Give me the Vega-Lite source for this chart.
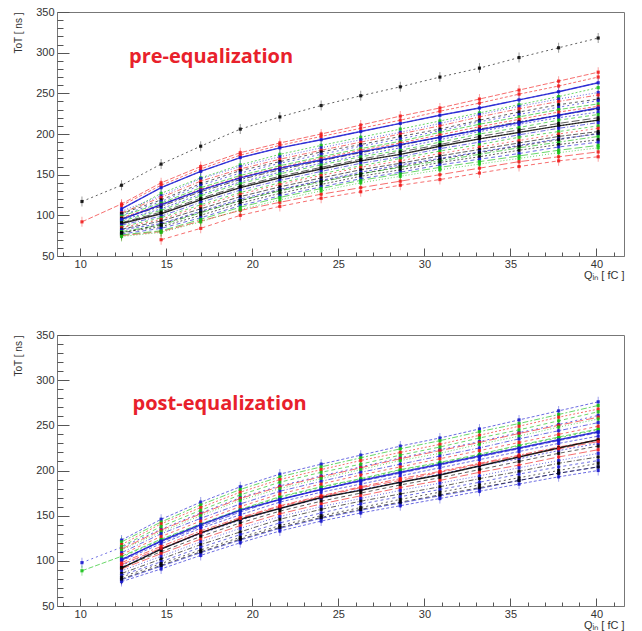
{
"$schema":"https://vega.github.io/schema/vega-lite/v6.json",
"padding":{"left":13,"right":10,"top":5,"bottom":0},
"spacing":47,
"config":{
 "view":{"stroke":"#777","strokeWidth":1},
 "axis":{"labelFont":"Liberation Sans","labelFontSize":11,"labelColor":"#333","titleFont":"Liberation Sans","titleFontSize":10,"titleFontWeight":"normal","titleColor":"#333","domainColor":"#777","tickColor":"#555","grid":false,"labelOverlap":false,"labelFlush":false,"labelBound":false}
},
"datasets":{"d":[
{"k":"a00","g":"k","x":10.1,"y":117},{"k":"a00","g":"k","x":12.4,"y":137},{"k":"a00","g":"k","x":14.7,"y":163},{"k":"a00","g":"k","x":17,"y":185},{"k":"a00","g":"k","x":19.3,"y":206},{"k":"a00","g":"k","x":21.6,"y":221},{"k":"a00","g":"k","x":24,"y":235},{"k":"a00","g":"k","x":26.3,"y":247},{"k":"a00","g":"k","x":28.6,"y":258},{"k":"a00","g":"k","x":30.9,"y":270},{"k":"a00","g":"k","x":33.2,"y":281},{"k":"a00","g":"k","x":35.5,"y":294},{"k":"a00","g":"k","x":37.8,"y":306},{"k":"a00","g":"k","x":40.1,"y":318},
{"k":"a01","g":"r","x":10.1,"y":92},{"k":"a01","g":"r","x":12.4,"y":114},{"k":"a01","g":"r","x":14.7,"y":140},{"k":"a01","g":"r","x":17,"y":160},{"k":"a01","g":"r","x":19.3,"y":177},{"k":"a01","g":"r","x":21.6,"y":189},{"k":"a01","g":"r","x":24,"y":200},{"k":"a01","g":"r","x":26.3,"y":211},{"k":"a01","g":"r","x":28.6,"y":222},{"k":"a01","g":"r","x":30.9,"y":232},{"k":"a01","g":"r","x":33.2,"y":243},{"k":"a01","g":"r","x":35.5,"y":254},{"k":"a01","g":"r","x":37.8,"y":265},{"k":"a01","g":"r","x":40.1,"y":276},
{"k":"a02","g":"r","x":12.4,"y":112},{"k":"a02","g":"r","x":14.7,"y":137},{"k":"a02","g":"r","x":17,"y":157},{"k":"a02","g":"r","x":19.3,"y":174},{"k":"a02","g":"r","x":21.6,"y":186},{"k":"a02","g":"r","x":24,"y":197},{"k":"a02","g":"r","x":26.3,"y":207},{"k":"a02","g":"r","x":28.6,"y":217},{"k":"a02","g":"r","x":30.9,"y":228},{"k":"a02","g":"r","x":33.2,"y":238},{"k":"a02","g":"r","x":35.5,"y":249},{"k":"a02","g":"r","x":37.8,"y":259},{"k":"a02","g":"r","x":40.1,"y":270},
{"k":"a03","g":"b","x":12.4,"y":108},{"k":"a03","g":"b","x":14.7,"y":134},{"k":"a03","g":"b","x":17,"y":154},{"k":"a03","g":"b","x":19.3,"y":171},{"k":"a03","g":"b","x":21.6,"y":183},{"k":"a03","g":"b","x":24,"y":193},{"k":"a03","g":"b","x":26.3,"y":203},{"k":"a03","g":"b","x":28.6,"y":213},{"k":"a03","g":"b","x":30.9,"y":223},{"k":"a03","g":"b","x":33.2,"y":232},{"k":"a03","g":"b","x":35.5,"y":242},{"k":"a03","g":"b","x":37.8,"y":252},{"k":"a03","g":"b","x":40.1,"y":263},
{"k":"a04","g":"g","x":12.4,"y":101},{"k":"a04","g":"g","x":14.7,"y":127},{"k":"a04","g":"g","x":17,"y":146},{"k":"a04","g":"g","x":19.3,"y":162},{"k":"a04","g":"g","x":21.6,"y":175},{"k":"a04","g":"g","x":24,"y":186},{"k":"a04","g":"g","x":26.3,"y":196},{"k":"a04","g":"g","x":28.6,"y":206},{"k":"a04","g":"g","x":30.9,"y":216},{"k":"a04","g":"g","x":33.2,"y":226},{"k":"a04","g":"g","x":35.5,"y":236},{"k":"a04","g":"g","x":37.8,"y":246},{"k":"a04","g":"g","x":40.1,"y":257},
{"k":"a05","g":"r","x":14.7,"y":70},{"k":"a05","g":"r","x":17,"y":84},{"k":"a05","g":"r","x":19.3,"y":100},{"k":"a05","g":"r","x":21.6,"y":111},{"k":"a05","g":"r","x":24,"y":121},{"k":"a05","g":"r","x":26.3,"y":129},{"k":"a05","g":"r","x":28.6,"y":137},{"k":"a05","g":"r","x":30.9,"y":144},{"k":"a05","g":"r","x":33.2,"y":152},{"k":"a05","g":"r","x":35.5,"y":160},{"k":"a05","g":"r","x":37.8,"y":167},{"k":"a05","g":"r","x":40.1,"y":172},
{"k":"a06","g":"r","x":12.4,"y":75},{"k":"a06","g":"r","x":14.7,"y":80},{"k":"a06","g":"r","x":17,"y":93},{"k":"a06","g":"r","x":19.3,"y":106},{"k":"a06","g":"r","x":21.6,"y":116},{"k":"a06","g":"r","x":24,"y":126},{"k":"a06","g":"r","x":26.3,"y":134},{"k":"a06","g":"r","x":28.6,"y":142},{"k":"a06","g":"r","x":30.9,"y":150},{"k":"a06","g":"r","x":33.2,"y":158},{"k":"a06","g":"r","x":35.5,"y":166},{"k":"a06","g":"r","x":37.8,"y":172},{"k":"a06","g":"r","x":40.1,"y":178},
{"k":"a07","g":"b","x":12.4,"y":105},{"k":"a07","g":"b","x":14.7,"y":124},{"k":"a07","g":"b","x":17,"y":145},{"k":"a07","g":"b","x":19.3,"y":160},{"k":"a07","g":"b","x":21.6,"y":172},{"k":"a07","g":"b","x":24,"y":183},{"k":"a07","g":"b","x":26.3,"y":193},{"k":"a07","g":"b","x":28.6,"y":202},{"k":"a07","g":"b","x":30.9,"y":213},{"k":"a07","g":"b","x":33.2,"y":224},{"k":"a07","g":"b","x":35.5,"y":234},{"k":"a07","g":"b","x":37.8,"y":243},{"k":"a07","g":"b","x":40.1,"y":251},
{"k":"a08","g":"r","x":12.4,"y":103},{"k":"a08","g":"r","x":14.7,"y":122},{"k":"a08","g":"r","x":17,"y":142},{"k":"a08","g":"r","x":19.3,"y":157},{"k":"a08","g":"r","x":21.6,"y":169},{"k":"a08","g":"r","x":24,"y":180},{"k":"a08","g":"r","x":26.3,"y":190},{"k":"a08","g":"r","x":28.6,"y":200},{"k":"a08","g":"r","x":30.9,"y":210},{"k":"a08","g":"r","x":33.2,"y":221},{"k":"a08","g":"r","x":35.5,"y":231},{"k":"a08","g":"r","x":37.8,"y":240},{"k":"a08","g":"r","x":40.1,"y":248},
{"k":"a09","g":"k","x":12.4,"y":102},{"k":"a09","g":"k","x":14.7,"y":119},{"k":"a09","g":"k","x":17,"y":139},{"k":"a09","g":"k","x":19.3,"y":155},{"k":"a09","g":"k","x":21.6,"y":166},{"k":"a09","g":"k","x":24,"y":178},{"k":"a09","g":"k","x":26.3,"y":187},{"k":"a09","g":"k","x":28.6,"y":197},{"k":"a09","g":"k","x":30.9,"y":206},{"k":"a09","g":"k","x":33.2,"y":217},{"k":"a09","g":"k","x":35.5,"y":227},{"k":"a09","g":"k","x":37.8,"y":236},{"k":"a09","g":"k","x":40.1,"y":243},
{"k":"a10","g":"b","x":12.4,"y":100},{"k":"a10","g":"b","x":14.7,"y":117},{"k":"a10","g":"b","x":17,"y":137},{"k":"a10","g":"b","x":19.3,"y":152},{"k":"a10","g":"b","x":21.6,"y":164},{"k":"a10","g":"b","x":24,"y":175},{"k":"a10","g":"b","x":26.3,"y":185},{"k":"a10","g":"b","x":28.6,"y":194},{"k":"a10","g":"b","x":30.9,"y":204},{"k":"a10","g":"b","x":33.2,"y":215},{"k":"a10","g":"b","x":35.5,"y":224},{"k":"a10","g":"b","x":37.8,"y":233},{"k":"a10","g":"b","x":40.1,"y":241},
{"k":"a11","g":"g","x":12.4,"y":99},{"k":"a11","g":"g","x":14.7,"y":115},{"k":"a11","g":"g","x":17,"y":134},{"k":"a11","g":"g","x":19.3,"y":149},{"k":"a11","g":"g","x":21.6,"y":161},{"k":"a11","g":"g","x":24,"y":172},{"k":"a11","g":"g","x":26.3,"y":182},{"k":"a11","g":"g","x":28.6,"y":191},{"k":"a11","g":"g","x":30.9,"y":202},{"k":"a11","g":"g","x":33.2,"y":212},{"k":"a11","g":"g","x":35.5,"y":221},{"k":"a11","g":"g","x":37.8,"y":230},{"k":"a11","g":"g","x":40.1,"y":237},
{"k":"a12","g":"r","x":12.4,"y":97},{"k":"a12","g":"r","x":14.7,"y":113},{"k":"a12","g":"r","x":17,"y":132},{"k":"a12","g":"r","x":19.3,"y":147},{"k":"a12","g":"r","x":21.6,"y":159},{"k":"a12","g":"r","x":24,"y":170},{"k":"a12","g":"r","x":26.3,"y":180},{"k":"a12","g":"r","x":28.6,"y":189},{"k":"a12","g":"r","x":30.9,"y":199},{"k":"a12","g":"r","x":33.2,"y":209},{"k":"a12","g":"r","x":35.5,"y":218},{"k":"a12","g":"r","x":37.8,"y":227},{"k":"a12","g":"r","x":40.1,"y":234},
{"k":"a13","g":"k","x":12.4,"y":96},{"k":"a13","g":"k","x":14.7,"y":111},{"k":"a13","g":"k","x":17,"y":129},{"k":"a13","g":"k","x":19.3,"y":144},{"k":"a13","g":"k","x":21.6,"y":156},{"k":"a13","g":"k","x":24,"y":167},{"k":"a13","g":"k","x":26.3,"y":177},{"k":"a13","g":"k","x":28.6,"y":186},{"k":"a13","g":"k","x":30.9,"y":196},{"k":"a13","g":"k","x":33.2,"y":206},{"k":"a13","g":"k","x":35.5,"y":215},{"k":"a13","g":"k","x":37.8,"y":223},{"k":"a13","g":"k","x":40.1,"y":231},
{"k":"a14","g":"b","x":12.4,"y":94},{"k":"a14","g":"b","x":14.7,"y":108},{"k":"a14","g":"b","x":17,"y":126},{"k":"a14","g":"b","x":19.3,"y":141},{"k":"a14","g":"b","x":21.6,"y":153},{"k":"a14","g":"b","x":24,"y":164},{"k":"a14","g":"b","x":26.3,"y":174},{"k":"a14","g":"b","x":28.6,"y":183},{"k":"a14","g":"b","x":30.9,"y":193},{"k":"a14","g":"b","x":33.2,"y":203},{"k":"a14","g":"b","x":35.5,"y":212},{"k":"a14","g":"b","x":37.8,"y":220},{"k":"a14","g":"b","x":40.1,"y":227},
{"k":"a15","g":"g","x":12.4,"y":93},{"k":"a15","g":"g","x":14.7,"y":106},{"k":"a15","g":"g","x":17,"y":124},{"k":"a15","g":"g","x":19.3,"y":139},{"k":"a15","g":"g","x":21.6,"y":151},{"k":"a15","g":"g","x":24,"y":162},{"k":"a15","g":"g","x":26.3,"y":172},{"k":"a15","g":"g","x":28.6,"y":180},{"k":"a15","g":"g","x":30.9,"y":190},{"k":"a15","g":"g","x":33.2,"y":200},{"k":"a15","g":"g","x":35.5,"y":208},{"k":"a15","g":"g","x":37.8,"y":217},{"k":"a15","g":"g","x":40.1,"y":224},
{"k":"a16","g":"k","x":12.4,"y":91},{"k":"a16","g":"k","x":14.7,"y":104},{"k":"a16","g":"k","x":17,"y":121},{"k":"a16","g":"k","x":19.3,"y":136},{"k":"a16","g":"k","x":21.6,"y":148},{"k":"a16","g":"k","x":24,"y":159},{"k":"a16","g":"k","x":26.3,"y":169},{"k":"a16","g":"k","x":28.6,"y":178},{"k":"a16","g":"k","x":30.9,"y":187},{"k":"a16","g":"k","x":33.2,"y":197},{"k":"a16","g":"k","x":35.5,"y":205},{"k":"a16","g":"k","x":37.8,"y":213},{"k":"a16","g":"k","x":40.1,"y":220},
{"k":"a17","g":"k","x":12.4,"y":90},{"k":"a17","g":"k","x":14.7,"y":102},{"k":"a17","g":"k","x":17,"y":119},{"k":"a17","g":"k","x":19.3,"y":134},{"k":"a17","g":"k","x":21.6,"y":146},{"k":"a17","g":"k","x":24,"y":157},{"k":"a17","g":"k","x":26.3,"y":167},{"k":"a17","g":"k","x":28.6,"y":175},{"k":"a17","g":"k","x":30.9,"y":185},{"k":"a17","g":"k","x":33.2,"y":194},{"k":"a17","g":"k","x":35.5,"y":202},{"k":"a17","g":"k","x":37.8,"y":210},{"k":"a17","g":"k","x":40.1,"y":217},
{"k":"a18","g":"b","x":12.4,"y":88},{"k":"a18","g":"b","x":14.7,"y":99},{"k":"a18","g":"b","x":17,"y":116},{"k":"a18","g":"b","x":19.3,"y":131},{"k":"a18","g":"b","x":21.6,"y":143},{"k":"a18","g":"b","x":24,"y":154},{"k":"a18","g":"b","x":26.3,"y":164},{"k":"a18","g":"b","x":28.6,"y":172},{"k":"a18","g":"b","x":30.9,"y":182},{"k":"a18","g":"b","x":33.2,"y":190},{"k":"a18","g":"b","x":35.5,"y":199},{"k":"a18","g":"b","x":37.8,"y":207},{"k":"a18","g":"b","x":40.1,"y":214},
{"k":"a19","g":"g","x":12.4,"y":86},{"k":"a19","g":"g","x":14.7,"y":97},{"k":"a19","g":"g","x":17,"y":113},{"k":"a19","g":"g","x":19.3,"y":128},{"k":"a19","g":"g","x":21.6,"y":140},{"k":"a19","g":"g","x":24,"y":151},{"k":"a19","g":"g","x":26.3,"y":161},{"k":"a19","g":"g","x":28.6,"y":170},{"k":"a19","g":"g","x":30.9,"y":179},{"k":"a19","g":"g","x":33.2,"y":187},{"k":"a19","g":"g","x":35.5,"y":196},{"k":"a19","g":"g","x":37.8,"y":203},{"k":"a19","g":"g","x":40.1,"y":210},
{"k":"a20","g":"r","x":12.4,"y":85},{"k":"a20","g":"r","x":14.7,"y":95},{"k":"a20","g":"r","x":17,"y":111},{"k":"a20","g":"r","x":19.3,"y":126},{"k":"a20","g":"r","x":21.6,"y":138},{"k":"a20","g":"r","x":24,"y":149},{"k":"a20","g":"r","x":26.3,"y":159},{"k":"a20","g":"r","x":28.6,"y":167},{"k":"a20","g":"r","x":30.9,"y":176},{"k":"a20","g":"r","x":33.2,"y":184},{"k":"a20","g":"r","x":35.5,"y":192},{"k":"a20","g":"r","x":37.8,"y":200},{"k":"a20","g":"r","x":40.1,"y":207},
{"k":"a21","g":"k","x":12.4,"y":83},{"k":"a21","g":"k","x":14.7,"y":93},{"k":"a21","g":"k","x":17,"y":108},{"k":"a21","g":"k","x":19.3,"y":123},{"k":"a21","g":"k","x":21.6,"y":135},{"k":"a21","g":"k","x":24,"y":146},{"k":"a21","g":"k","x":26.3,"y":156},{"k":"a21","g":"k","x":28.6,"y":164},{"k":"a21","g":"k","x":30.9,"y":173},{"k":"a21","g":"k","x":33.2,"y":181},{"k":"a21","g":"k","x":35.5,"y":189},{"k":"a21","g":"k","x":37.8,"y":197},{"k":"a21","g":"k","x":40.1,"y":203},
{"k":"a22","g":"b","x":12.4,"y":82},{"k":"a22","g":"b","x":14.7,"y":90},{"k":"a22","g":"b","x":17,"y":105},{"k":"a22","g":"b","x":19.3,"y":120},{"k":"a22","g":"b","x":21.6,"y":132},{"k":"a22","g":"b","x":24,"y":143},{"k":"a22","g":"b","x":26.3,"y":153},{"k":"a22","g":"b","x":28.6,"y":162},{"k":"a22","g":"b","x":30.9,"y":170},{"k":"a22","g":"b","x":33.2,"y":178},{"k":"a22","g":"b","x":35.5,"y":186},{"k":"a22","g":"b","x":37.8,"y":194},{"k":"a22","g":"b","x":40.1,"y":200},
{"k":"a23","g":"g","x":12.4,"y":80},{"k":"a23","g":"g","x":14.7,"y":88},{"k":"a23","g":"g","x":17,"y":103},{"k":"a23","g":"g","x":19.3,"y":118},{"k":"a23","g":"g","x":21.6,"y":130},{"k":"a23","g":"g","x":24,"y":141},{"k":"a23","g":"g","x":26.3,"y":151},{"k":"a23","g":"g","x":28.6,"y":159},{"k":"a23","g":"g","x":30.9,"y":167},{"k":"a23","g":"g","x":33.2,"y":175},{"k":"a23","g":"g","x":35.5,"y":183},{"k":"a23","g":"g","x":37.8,"y":190},{"k":"a23","g":"g","x":40.1,"y":197},
{"k":"a24","g":"k","x":12.4,"y":79},{"k":"a24","g":"k","x":14.7,"y":86},{"k":"a24","g":"k","x":17,"y":100},{"k":"a24","g":"k","x":19.3,"y":115},{"k":"a24","g":"k","x":21.6,"y":127},{"k":"a24","g":"k","x":24,"y":138},{"k":"a24","g":"k","x":26.3,"y":148},{"k":"a24","g":"k","x":28.6,"y":156},{"k":"a24","g":"k","x":30.9,"y":165},{"k":"a24","g":"k","x":33.2,"y":172},{"k":"a24","g":"k","x":35.5,"y":180},{"k":"a24","g":"k","x":37.8,"y":187},{"k":"a24","g":"k","x":40.1,"y":193},
{"k":"a25","g":"b","x":12.4,"y":77},{"k":"a25","g":"b","x":14.7,"y":84},{"k":"a25","g":"b","x":17,"y":97},{"k":"a25","g":"b","x":19.3,"y":112},{"k":"a25","g":"b","x":21.6,"y":124},{"k":"a25","g":"b","x":24,"y":135},{"k":"a25","g":"b","x":26.3,"y":145},{"k":"a25","g":"b","x":28.6,"y":153},{"k":"a25","g":"b","x":30.9,"y":162},{"k":"a25","g":"b","x":33.2,"y":169},{"k":"a25","g":"b","x":35.5,"y":176},{"k":"a25","g":"b","x":37.8,"y":184},{"k":"a25","g":"b","x":40.1,"y":190},
{"k":"a26","g":"g","x":12.4,"y":76},{"k":"a26","g":"g","x":14.7,"y":81},{"k":"a26","g":"g","x":17,"y":95},{"k":"a26","g":"g","x":19.3,"y":110},{"k":"a26","g":"g","x":21.6,"y":122},{"k":"a26","g":"g","x":24,"y":133},{"k":"a26","g":"g","x":26.3,"y":143},{"k":"a26","g":"g","x":28.6,"y":151},{"k":"a26","g":"g","x":30.9,"y":159},{"k":"a26","g":"g","x":33.2,"y":166},{"k":"a26","g":"g","x":35.5,"y":173},{"k":"a26","g":"g","x":37.8,"y":180},{"k":"a26","g":"g","x":40.1,"y":186},
{"k":"a27","g":"g","x":12.4,"y":74},{"k":"a27","g":"g","x":14.7,"y":79},{"k":"a27","g":"g","x":17,"y":92},{"k":"a27","g":"g","x":19.3,"y":107},{"k":"a27","g":"g","x":21.6,"y":119},{"k":"a27","g":"g","x":24,"y":130},{"k":"a27","g":"g","x":26.3,"y":140},{"k":"a27","g":"g","x":28.6,"y":148},{"k":"a27","g":"g","x":30.9,"y":156},{"k":"a27","g":"g","x":33.2,"y":163},{"k":"a27","g":"g","x":35.5,"y":170},{"k":"a27","g":"g","x":37.8,"y":177},{"k":"a27","g":"g","x":40.1,"y":183},
{"k":"a28","g":"b","x":12.4,"y":95},{"k":"a28","g":"b","x":14.7,"y":113},{"k":"a28","g":"b","x":17,"y":131},{"k":"a28","g":"b","x":19.3,"y":146},{"k":"a28","g":"b","x":21.6,"y":158},{"k":"a28","g":"b","x":24,"y":168},{"k":"a28","g":"b","x":26.3,"y":178},{"k":"a28","g":"b","x":28.6,"y":187},{"k":"a28","g":"b","x":30.9,"y":196},{"k":"a28","g":"b","x":33.2,"y":205},{"k":"a28","g":"b","x":35.5,"y":214},{"k":"a28","g":"b","x":37.8,"y":223},{"k":"a28","g":"b","x":40.1,"y":232},
{"k":"a29","g":"k","x":12.4,"y":78},{"k":"a29","g":"k","x":14.7,"y":89},{"k":"a29","g":"k","x":17,"y":104},{"k":"a29","g":"k","x":19.3,"y":118},{"k":"a29","g":"k","x":21.6,"y":131},{"k":"a29","g":"k","x":24,"y":142},{"k":"a29","g":"k","x":26.3,"y":151},{"k":"a29","g":"k","x":28.6,"y":160},{"k":"a29","g":"k","x":30.9,"y":169},{"k":"a29","g":"k","x":33.2,"y":177},{"k":"a29","g":"k","x":35.5,"y":185},{"k":"a29","g":"k","x":37.8,"y":193},{"k":"a29","g":"k","x":40.1,"y":201},
{"k":"b00","g":"b","x":10.1,"y":98},{"k":"b00","g":"b","x":12.4,"y":115},{"k":"b00","g":"b","x":14.7,"y":135},{"k":"b00","g":"b","x":17,"y":153},{"k":"b00","g":"b","x":19.3,"y":170},{"k":"b00","g":"b","x":21.6,"y":183},{"k":"b00","g":"b","x":24,"y":194},{"k":"b00","g":"b","x":26.3,"y":204},{"k":"b00","g":"b","x":28.6,"y":214},{"k":"b00","g":"b","x":30.9,"y":223},{"k":"b00","g":"b","x":33.2,"y":232},{"k":"b00","g":"b","x":35.5,"y":242},{"k":"b00","g":"b","x":37.8,"y":251},{"k":"b00","g":"b","x":40.1,"y":261},
{"k":"b01","g":"g","x":10.1,"y":89},{"k":"b01","g":"g","x":12.4,"y":105},{"k":"b01","g":"g","x":14.7,"y":124},{"k":"b01","g":"g","x":17,"y":141},{"k":"b01","g":"g","x":19.3,"y":157},{"k":"b01","g":"g","x":21.6,"y":171},{"k":"b01","g":"g","x":24,"y":182},{"k":"b01","g":"g","x":26.3,"y":191},{"k":"b01","g":"g","x":28.6,"y":201},{"k":"b01","g":"g","x":30.9,"y":209},{"k":"b01","g":"g","x":33.2,"y":218},{"k":"b01","g":"g","x":35.5,"y":228},{"k":"b01","g":"g","x":37.8,"y":237},{"k":"b01","g":"g","x":40.1,"y":246},
{"k":"b02","g":"b","x":12.4,"y":123},{"k":"b02","g":"b","x":14.7,"y":146},{"k":"b02","g":"b","x":17,"y":165},{"k":"b02","g":"b","x":19.3,"y":182},{"k":"b02","g":"b","x":21.6,"y":196},{"k":"b02","g":"b","x":24,"y":207},{"k":"b02","g":"b","x":26.3,"y":217},{"k":"b02","g":"b","x":28.6,"y":227},{"k":"b02","g":"b","x":30.9,"y":236},{"k":"b02","g":"b","x":33.2,"y":246},{"k":"b02","g":"b","x":35.5,"y":256},{"k":"b02","g":"b","x":37.8,"y":266},{"k":"b02","g":"b","x":40.1,"y":276},
{"k":"b03","g":"g","x":12.4,"y":121},{"k":"b03","g":"g","x":14.7,"y":143},{"k":"b03","g":"g","x":17,"y":162},{"k":"b03","g":"g","x":19.3,"y":179},{"k":"b03","g":"g","x":21.6,"y":193},{"k":"b03","g":"g","x":24,"y":204},{"k":"b03","g":"g","x":26.3,"y":214},{"k":"b03","g":"g","x":28.6,"y":224},{"k":"b03","g":"g","x":30.9,"y":233},{"k":"b03","g":"g","x":33.2,"y":243},{"k":"b03","g":"g","x":35.5,"y":252},{"k":"b03","g":"g","x":37.8,"y":262},{"k":"b03","g":"g","x":40.1,"y":272},
{"k":"b04","g":"r","x":12.4,"y":118},{"k":"b04","g":"r","x":14.7,"y":141},{"k":"b04","g":"r","x":17,"y":159},{"k":"b04","g":"r","x":19.3,"y":176},{"k":"b04","g":"r","x":21.6,"y":190},{"k":"b04","g":"r","x":24,"y":201},{"k":"b04","g":"r","x":26.3,"y":211},{"k":"b04","g":"r","x":28.6,"y":220},{"k":"b04","g":"r","x":30.9,"y":229},{"k":"b04","g":"r","x":33.2,"y":239},{"k":"b04","g":"r","x":35.5,"y":249},{"k":"b04","g":"r","x":37.8,"y":259},{"k":"b04","g":"r","x":40.1,"y":268},
{"k":"b05","g":"g","x":12.4,"y":116},{"k":"b05","g":"g","x":14.7,"y":138},{"k":"b05","g":"g","x":17,"y":156},{"k":"b05","g":"g","x":19.3,"y":173},{"k":"b05","g":"g","x":21.6,"y":187},{"k":"b05","g":"g","x":24,"y":198},{"k":"b05","g":"g","x":26.3,"y":207},{"k":"b05","g":"g","x":28.6,"y":217},{"k":"b05","g":"g","x":30.9,"y":226},{"k":"b05","g":"g","x":33.2,"y":236},{"k":"b05","g":"g","x":35.5,"y":245},{"k":"b05","g":"g","x":37.8,"y":255},{"k":"b05","g":"g","x":40.1,"y":265},
{"k":"b06","g":"r","x":12.4,"y":113},{"k":"b06","g":"r","x":14.7,"y":134},{"k":"b06","g":"r","x":17,"y":152},{"k":"b06","g":"r","x":19.3,"y":169},{"k":"b06","g":"r","x":21.6,"y":182},{"k":"b06","g":"r","x":24,"y":193},{"k":"b06","g":"r","x":26.3,"y":203},{"k":"b06","g":"r","x":28.6,"y":213},{"k":"b06","g":"r","x":30.9,"y":222},{"k":"b06","g":"r","x":33.2,"y":231},{"k":"b06","g":"r","x":35.5,"y":241},{"k":"b06","g":"r","x":37.8,"y":250},{"k":"b06","g":"r","x":40.1,"y":259},
{"k":"b07","g":"g","x":12.4,"y":112},{"k":"b07","g":"g","x":14.7,"y":132},{"k":"b07","g":"g","x":17,"y":150},{"k":"b07","g":"g","x":19.3,"y":167},{"k":"b07","g":"g","x":21.6,"y":180},{"k":"b07","g":"g","x":24,"y":191},{"k":"b07","g":"g","x":26.3,"y":201},{"k":"b07","g":"g","x":28.6,"y":211},{"k":"b07","g":"g","x":30.9,"y":219},{"k":"b07","g":"g","x":33.2,"y":229},{"k":"b07","g":"g","x":35.5,"y":238},{"k":"b07","g":"g","x":37.8,"y":248},{"k":"b07","g":"g","x":40.1,"y":257},
{"k":"b08","g":"b","x":12.4,"y":109},{"k":"b08","g":"b","x":14.7,"y":130},{"k":"b08","g":"b","x":17,"y":147},{"k":"b08","g":"b","x":19.3,"y":163},{"k":"b08","g":"b","x":21.6,"y":177},{"k":"b08","g":"b","x":24,"y":188},{"k":"b08","g":"b","x":26.3,"y":198},{"k":"b08","g":"b","x":28.6,"y":207},{"k":"b08","g":"b","x":30.9,"y":216},{"k":"b08","g":"b","x":33.2,"y":225},{"k":"b08","g":"b","x":35.5,"y":235},{"k":"b08","g":"b","x":37.8,"y":244},{"k":"b08","g":"b","x":40.1,"y":253},
{"k":"b09","g":"r","x":12.4,"y":107},{"k":"b09","g":"r","x":14.7,"y":127},{"k":"b09","g":"r","x":17,"y":144},{"k":"b09","g":"r","x":19.3,"y":160},{"k":"b09","g":"r","x":21.6,"y":174},{"k":"b09","g":"r","x":24,"y":185},{"k":"b09","g":"r","x":26.3,"y":195},{"k":"b09","g":"r","x":28.6,"y":204},{"k":"b09","g":"r","x":30.9,"y":213},{"k":"b09","g":"r","x":33.2,"y":222},{"k":"b09","g":"r","x":35.5,"y":231},{"k":"b09","g":"r","x":37.8,"y":240},{"k":"b09","g":"r","x":40.1,"y":249},
{"k":"b10","g":"g","x":12.4,"y":104},{"k":"b10","g":"g","x":14.7,"y":123},{"k":"b10","g":"g","x":17,"y":140},{"k":"b10","g":"g","x":19.3,"y":156},{"k":"b10","g":"g","x":21.6,"y":170},{"k":"b10","g":"g","x":24,"y":181},{"k":"b10","g":"g","x":26.3,"y":190},{"k":"b10","g":"g","x":28.6,"y":200},{"k":"b10","g":"g","x":30.9,"y":208},{"k":"b10","g":"g","x":33.2,"y":217},{"k":"b10","g":"g","x":35.5,"y":227},{"k":"b10","g":"g","x":37.8,"y":236},{"k":"b10","g":"g","x":40.1,"y":245},
{"k":"b11","g":"b","x":12.4,"y":102},{"k":"b11","g":"b","x":14.7,"y":121},{"k":"b11","g":"b","x":17,"y":138},{"k":"b11","g":"b","x":19.3,"y":154},{"k":"b11","g":"b","x":21.6,"y":168},{"k":"b11","g":"b","x":24,"y":179},{"k":"b11","g":"b","x":26.3,"y":188},{"k":"b11","g":"b","x":28.6,"y":197},{"k":"b11","g":"b","x":30.9,"y":206},{"k":"b11","g":"b","x":33.2,"y":215},{"k":"b11","g":"b","x":35.5,"y":224},{"k":"b11","g":"b","x":37.8,"y":233},{"k":"b11","g":"b","x":40.1,"y":242},
{"k":"b12","g":"b","x":12.4,"y":100},{"k":"b12","g":"b","x":14.7,"y":119},{"k":"b12","g":"b","x":17,"y":136},{"k":"b12","g":"b","x":19.3,"y":151},{"k":"b12","g":"b","x":21.6,"y":165},{"k":"b12","g":"b","x":24,"y":176},{"k":"b12","g":"b","x":26.3,"y":185},{"k":"b12","g":"b","x":28.6,"y":194},{"k":"b12","g":"b","x":30.9,"y":203},{"k":"b12","g":"b","x":33.2,"y":212},{"k":"b12","g":"b","x":35.5,"y":221},{"k":"b12","g":"b","x":37.8,"y":230},{"k":"b12","g":"b","x":40.1,"y":238},
{"k":"b13","g":"r","x":12.4,"y":98},{"k":"b13","g":"r","x":14.7,"y":116},{"k":"b13","g":"r","x":17,"y":133},{"k":"b13","g":"r","x":19.3,"y":148},{"k":"b13","g":"r","x":21.6,"y":161},{"k":"b13","g":"r","x":24,"y":172},{"k":"b13","g":"r","x":26.3,"y":182},{"k":"b13","g":"r","x":28.6,"y":191},{"k":"b13","g":"r","x":30.9,"y":199},{"k":"b13","g":"r","x":33.2,"y":208},{"k":"b13","g":"r","x":35.5,"y":217},{"k":"b13","g":"r","x":37.8,"y":226},{"k":"b13","g":"r","x":40.1,"y":234},
{"k":"b14","g":"b","x":12.4,"y":95},{"k":"b14","g":"b","x":14.7,"y":113},{"k":"b14","g":"b","x":17,"y":130},{"k":"b14","g":"b","x":19.3,"y":145},{"k":"b14","g":"b","x":21.6,"y":158},{"k":"b14","g":"b","x":24,"y":169},{"k":"b14","g":"b","x":26.3,"y":179},{"k":"b14","g":"b","x":28.6,"y":187},{"k":"b14","g":"b","x":30.9,"y":196},{"k":"b14","g":"b","x":33.2,"y":205},{"k":"b14","g":"b","x":35.5,"y":213},{"k":"b14","g":"b","x":37.8,"y":222},{"k":"b14","g":"b","x":40.1,"y":230},
{"k":"b15","g":"k","x":12.4,"y":93},{"k":"b15","g":"k","x":14.7,"y":110},{"k":"b15","g":"k","x":17,"y":127},{"k":"b15","g":"k","x":19.3,"y":142},{"k":"b15","g":"k","x":21.6,"y":155},{"k":"b15","g":"k","x":24,"y":166},{"k":"b15","g":"k","x":26.3,"y":175},{"k":"b15","g":"k","x":28.6,"y":184},{"k":"b15","g":"k","x":30.9,"y":192},{"k":"b15","g":"k","x":33.2,"y":201},{"k":"b15","g":"k","x":35.5,"y":210},{"k":"b15","g":"k","x":37.8,"y":219},{"k":"b15","g":"k","x":40.1,"y":227},
{"k":"b16","g":"r","x":12.4,"y":91},{"k":"b16","g":"r","x":14.7,"y":108},{"k":"b16","g":"r","x":17,"y":124},{"k":"b16","g":"r","x":19.3,"y":139},{"k":"b16","g":"r","x":21.6,"y":152},{"k":"b16","g":"r","x":24,"y":163},{"k":"b16","g":"r","x":26.3,"y":172},{"k":"b16","g":"r","x":28.6,"y":181},{"k":"b16","g":"r","x":30.9,"y":189},{"k":"b16","g":"r","x":33.2,"y":198},{"k":"b16","g":"r","x":35.5,"y":206},{"k":"b16","g":"r","x":37.8,"y":215},{"k":"b16","g":"r","x":40.1,"y":223},
{"k":"b17","g":"b","x":12.4,"y":89},{"k":"b17","g":"b","x":14.7,"y":105},{"k":"b17","g":"b","x":17,"y":121},{"k":"b17","g":"b","x":19.3,"y":136},{"k":"b17","g":"b","x":21.6,"y":149},{"k":"b17","g":"b","x":24,"y":160},{"k":"b17","g":"b","x":26.3,"y":169},{"k":"b17","g":"b","x":28.6,"y":178},{"k":"b17","g":"b","x":30.9,"y":186},{"k":"b17","g":"b","x":33.2,"y":194},{"k":"b17","g":"b","x":35.5,"y":203},{"k":"b17","g":"b","x":37.8,"y":211},{"k":"b17","g":"b","x":40.1,"y":219},
{"k":"b18","g":"k","x":12.4,"y":86},{"k":"b18","g":"k","x":14.7,"y":102},{"k":"b18","g":"k","x":17,"y":118},{"k":"b18","g":"k","x":19.3,"y":132},{"k":"b18","g":"k","x":21.6,"y":146},{"k":"b18","g":"k","x":24,"y":157},{"k":"b18","g":"k","x":26.3,"y":166},{"k":"b18","g":"k","x":28.6,"y":174},{"k":"b18","g":"k","x":30.9,"y":182},{"k":"b18","g":"k","x":33.2,"y":191},{"k":"b18","g":"k","x":35.5,"y":199},{"k":"b18","g":"k","x":37.8,"y":208},{"k":"b18","g":"k","x":40.1,"y":215},
{"k":"b19","g":"b","x":12.4,"y":84},{"k":"b19","g":"b","x":14.7,"y":99},{"k":"b19","g":"b","x":17,"y":115},{"k":"b19","g":"b","x":19.3,"y":129},{"k":"b19","g":"b","x":21.6,"y":142},{"k":"b19","g":"b","x":24,"y":153},{"k":"b19","g":"b","x":26.3,"y":163},{"k":"b19","g":"b","x":28.6,"y":171},{"k":"b19","g":"b","x":30.9,"y":179},{"k":"b19","g":"b","x":33.2,"y":187},{"k":"b19","g":"b","x":35.5,"y":196},{"k":"b19","g":"b","x":37.8,"y":204},{"k":"b19","g":"b","x":40.1,"y":211},
{"k":"b20","g":"k","x":12.4,"y":82},{"k":"b20","g":"k","x":14.7,"y":97},{"k":"b20","g":"k","x":17,"y":112},{"k":"b20","g":"k","x":19.3,"y":126},{"k":"b20","g":"k","x":21.6,"y":139},{"k":"b20","g":"k","x":24,"y":150},{"k":"b20","g":"k","x":26.3,"y":159},{"k":"b20","g":"k","x":28.6,"y":168},{"k":"b20","g":"k","x":30.9,"y":176},{"k":"b20","g":"k","x":33.2,"y":184},{"k":"b20","g":"k","x":35.5,"y":192},{"k":"b20","g":"k","x":37.8,"y":200},{"k":"b20","g":"k","x":40.1,"y":208},
{"k":"b21","g":"b","x":12.4,"y":79},{"k":"b21","g":"b","x":14.7,"y":94},{"k":"b21","g":"b","x":17,"y":109},{"k":"b21","g":"b","x":19.3,"y":123},{"k":"b21","g":"b","x":21.6,"y":136},{"k":"b21","g":"b","x":24,"y":147},{"k":"b21","g":"b","x":26.3,"y":156},{"k":"b21","g":"b","x":28.6,"y":164},{"k":"b21","g":"b","x":30.9,"y":172},{"k":"b21","g":"b","x":33.2,"y":180},{"k":"b21","g":"b","x":35.5,"y":189},{"k":"b21","g":"b","x":37.8,"y":197},{"k":"b21","g":"b","x":40.1,"y":204},
{"k":"b22","g":"b","x":12.4,"y":77},{"k":"b22","g":"b","x":14.7,"y":91},{"k":"b22","g":"b","x":17,"y":106},{"k":"b22","g":"b","x":19.3,"y":120},{"k":"b22","g":"b","x":21.6,"y":133},{"k":"b22","g":"b","x":24,"y":144},{"k":"b22","g":"b","x":26.3,"y":153},{"k":"b22","g":"b","x":28.6,"y":161},{"k":"b22","g":"b","x":30.9,"y":169},{"k":"b22","g":"b","x":33.2,"y":177},{"k":"b22","g":"b","x":35.5,"y":185},{"k":"b22","g":"b","x":37.8,"y":193},{"k":"b22","g":"b","x":40.1,"y":200},
{"k":"b23","g":"k","x":12.4,"y":92},{"k":"b23","g":"k","x":14.7,"y":113},{"k":"b23","g":"k","x":17,"y":131},{"k":"b23","g":"k","x":19.3,"y":146},{"k":"b23","g":"k","x":21.6,"y":158},{"k":"b23","g":"k","x":24,"y":170},{"k":"b23","g":"k","x":26.3,"y":178},{"k":"b23","g":"k","x":28.6,"y":187},{"k":"b23","g":"k","x":30.9,"y":195},{"k":"b23","g":"k","x":33.2,"y":205},{"k":"b23","g":"k","x":35.5,"y":215},{"k":"b23","g":"k","x":37.8,"y":225},{"k":"b23","g":"k","x":40.1,"y":234},
{"k":"b24","g":"b","x":12.4,"y":101},{"k":"b24","g":"b","x":14.7,"y":122},{"k":"b24","g":"b","x":17,"y":140},{"k":"b24","g":"b","x":19.3,"y":156},{"k":"b24","g":"b","x":21.6,"y":168},{"k":"b24","g":"b","x":24,"y":179},{"k":"b24","g":"b","x":26.3,"y":189},{"k":"b24","g":"b","x":28.6,"y":198},{"k":"b24","g":"b","x":30.9,"y":207},{"k":"b24","g":"b","x":33.2,"y":216},{"k":"b24","g":"b","x":35.5,"y":225},{"k":"b24","g":"b","x":37.8,"y":234},{"k":"b24","g":"b","x":40.1,"y":243},
{"k":"b25","g":"k","x":12.4,"y":80},{"k":"b25","g":"k","x":14.7,"y":95},{"k":"b25","g":"k","x":17,"y":110},{"k":"b25","g":"k","x":19.3,"y":124},{"k":"b25","g":"k","x":21.6,"y":137},{"k":"b25","g":"k","x":24,"y":148},{"k":"b25","g":"k","x":26.3,"y":157},{"k":"b25","g":"k","x":28.6,"y":165},{"k":"b25","g":"k","x":30.9,"y":173},{"k":"b25","g":"k","x":33.2,"y":181},{"k":"b25","g":"k","x":35.5,"y":189},{"k":"b25","g":"k","x":37.8,"y":197},{"k":"b25","g":"k","x":40.1,"y":204},
{"k":"b26","g":"r","x":12.4,"y":96},{"k":"b26","g":"r","x":14.7,"y":114},{"k":"b26","g":"r","x":17,"y":131},{"k":"b26","g":"r","x":19.3,"y":147},{"k":"b26","g":"r","x":21.6,"y":160},{"k":"b26","g":"r","x":24,"y":171},{"k":"b26","g":"r","x":26.3,"y":181},{"k":"b26","g":"r","x":28.6,"y":189},{"k":"b26","g":"r","x":30.9,"y":198},{"k":"b26","g":"r","x":33.2,"y":207},{"k":"b26","g":"r","x":35.5,"y":216},{"k":"b26","g":"r","x":37.8,"y":224},{"k":"b26","g":"r","x":40.1,"y":232}
]},
"vconcat":[
{"width":567,"height":244,
 "resolve":{"axis":{"x":"independent","y":"independent"}},
 "layer":[
  {"data":{"name":"d"},"transform":[{"filter":"substring(datum.k,0,1)==='a'"}],
   "mark":{"type":"line","strokeWidth":0.9,"opacity":0.7},
   "encoding":{
    "x":{"field":"x","type":"quantitative","scale":{"domain":[8.65,41.6],"nice":false,"zero":false},
      "axis":{"orient":"bottom","title":"Qᵢₙ [ fC ]","values":[10,15,20,25,30,35,40],"tickSize":-8,"labelPadding":10,"titleAnchor":"end","titlePadding":0,"titleFontSize":11}},
    "y":{"field":"y","type":"quantitative","scale":{"domain":[50,350],"nice":false,"zero":false},
      "axis":{"orient":"left","title":"ToT [ ns ]","values":[50,100,150,200,250,300,350],"tickSize":-12,"labelPadding":15,"titleAnchor":"end","titlePadding":12}},
    "color":{"field":"g","type":"nominal","scale":{"domain":["r","g","b","k"],"range":["#f01818","#12c012","#1414d0","#000000"]},"legend":null},
    "strokeDash":{"field":"k","type":"nominal","scale":{"range":[[2,3],[5,2],[3,2],[6,2,2,2],[2,2],[4,3],[8,3],[1,2],[5,2,1,2],[3,3]]},"legend":null}}},
  {"data":{"name":"d"},"transform":[{"filter":"datum.k==='a17'||datum.k==='a28'||datum.k==='a03'"}],
   "mark":{"type":"line","strokeWidth":1.4,"opacity":0.8},
   "encoding":{"x":{"field":"x","type":"quantitative","axis":null},"y":{"field":"y","type":"quantitative","axis":null},"color":{"field":"g","type":"nominal","legend":null},"detail":{"field":"k"}}},
  {"data":{"name":"d"},"transform":[{"filter":"substring(datum.k,0,1)==='a'"}],
   "mark":{"type":"tick","orient":"vertical","size":10,"thickness":1,"opacity":0.4},
   "encoding":{
    "x":{"field":"x","type":"quantitative","axis":{"orient":"bottom","values":[9,11,12,13,14,16,17,18,19,21,22,23,24,26,27,28,29,31,32,33,34,36,37,38,39,41],"tickSize":-4,"labels":false,"domain":false,"title":null}},
    "y":{"field":"y","type":"quantitative","axis":{"orient":"left","values":[60,70,80,90,110,120,130,140,160,170,180,190,210,220,230,240,260,270,280,290,310,320,330,340],"tickSize":-6,"labels":false,"domain":false,"title":null}},
    "color":{"field":"g","type":"nominal","legend":null}}},
  {"data":{"name":"d"},"transform":[{"filter":"substring(datum.k,0,1)==='a'"}],
   "mark":{"type":"point","shape":"square","filled":true,"size":10,"opacity":0.85},
   "encoding":{"x":{"field":"x","type":"quantitative","axis":null},"y":{"field":"y","type":"quantitative","axis":null},"color":{"field":"g","type":"nominal","legend":null}}},
  {"data":{"values":[{}]},
   "mark":{"type":"text","font":"Open Sans","fontWeight":"bold","fontSize":20,"color":"#e8212b","align":"center","baseline":"middle"},
   "encoding":{"x":{"datum":17.6,"type":"quantitative","axis":null},"y":{"datum":295,"type":"quantitative","axis":null},"text":{"value":"pre-equalization"}}}
 ]},
{"width":567,"height":271,
 "resolve":{"axis":{"x":"independent","y":"independent"}},
 "layer":[
  {"data":{"name":"d"},"transform":[{"filter":"substring(datum.k,0,1)==='b'"}],
   "mark":{"type":"line","strokeWidth":0.9,"opacity":0.7},
   "encoding":{
    "x":{"field":"x","type":"quantitative","scale":{"domain":[8.65,41.6],"nice":false,"zero":false},
      "axis":{"orient":"bottom","title":"Qᵢₙ [ fC ]","values":[10,15,20,25,30,35,40],"tickSize":-8,"labelPadding":10,"titleAnchor":"end","titlePadding":0,"titleFontSize":11}},
    "y":{"field":"y","type":"quantitative","scale":{"domain":[50,350],"nice":false,"zero":false},
      "axis":{"orient":"left","title":"ToT [ ns ]","values":[50,100,150,200,250,300,350],"tickSize":-12,"labelPadding":15,"titleAnchor":"end","titlePadding":12}},
    "color":{"field":"g","type":"nominal","scale":{"domain":["r","g","b","k"],"range":["#f01818","#12c012","#1414d0","#000000"]},"legend":null},
    "strokeDash":{"field":"k","type":"nominal","scale":{"range":[[4,2],[3,2],[2,2],[6,2,2,2],[5,3],[2,3],[8,3],[1,2],[5,2,1,2],[3,3]]},"legend":null}}},
  {"data":{"name":"d"},"transform":[{"filter":"datum.k==='b23'||datum.k==='b24'"}],
   "mark":{"type":"line","strokeWidth":1.5,"opacity":0.8},
   "encoding":{"x":{"field":"x","type":"quantitative","axis":null},"y":{"field":"y","type":"quantitative","axis":null},"color":{"field":"g","type":"nominal","legend":null},"detail":{"field":"k"}}},
  {"data":{"name":"d"},"transform":[{"filter":"substring(datum.k,0,1)==='b'"}],
   "mark":{"type":"tick","orient":"vertical","size":10,"thickness":1,"opacity":0.4},
   "encoding":{
    "x":{"field":"x","type":"quantitative","axis":{"orient":"bottom","values":[9,11,12,13,14,16,17,18,19,21,22,23,24,26,27,28,29,31,32,33,34,36,37,38,39,41],"tickSize":-4,"labels":false,"domain":false,"title":null}},
    "y":{"field":"y","type":"quantitative","axis":{"orient":"left","values":[60,70,80,90,110,120,130,140,160,170,180,190,210,220,230,240,260,270,280,290,310,320,330,340],"tickSize":-6,"labels":false,"domain":false,"title":null}},
    "color":{"field":"g","type":"nominal","legend":null}}},
  {"data":{"name":"d"},"transform":[{"filter":"substring(datum.k,0,1)==='b'"}],
   "mark":{"type":"point","shape":"square","filled":true,"size":10,"opacity":0.85},
   "encoding":{"x":{"field":"x","type":"quantitative","axis":null},"y":{"field":"y","type":"quantitative","axis":null},"color":{"field":"g","type":"nominal","legend":null}}},
  {"data":{"values":[{}]},
   "mark":{"type":"text","font":"Open Sans","fontWeight":"bold","fontSize":20,"color":"#e8212b","align":"center","baseline":"middle"},
   "encoding":{"x":{"datum":18.1,"type":"quantitative","axis":null},"y":{"datum":273.6,"type":"quantitative","axis":null},"text":{"value":"post-equalization"}}}
 ]}
]
}
